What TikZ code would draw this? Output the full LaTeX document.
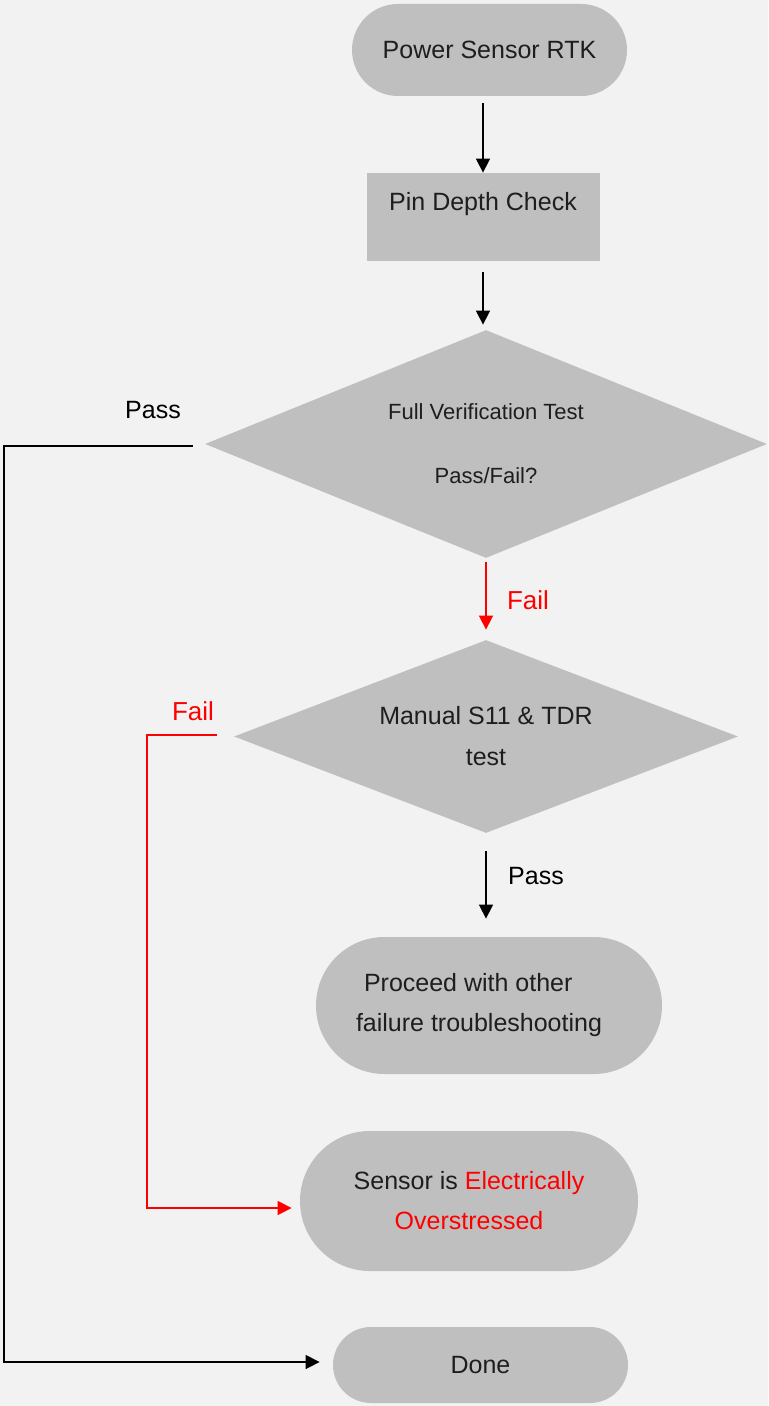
\documentclass[tikz,border=0pt]{standalone}
\usepackage{fontspec}
\setmainfont{Liberation Sans}
\usetikzlibrary{shapes.misc,shapes.geometric,arrows.meta}
\definecolor{bggray}{RGB}{242,242,242}
\definecolor{boxgray}{RGB}{191,191,191}
\definecolor{txtgray}{RGB}{30,30,30}
\tikzset{pill/.style={rounded rectangle, fill=boxgray, inner sep=0pt, text=txtgray, align=center, font=\fontsize{12.5}{20}\selectfont},
	boxstep/.style={rectangle, fill=boxgray, inner xsep=0pt, inner ysep=0pt, text=txtgray, font=\fontsize{12.5}{20}\selectfont},
	decision/.style={diamond, aspect=2.5, fill=boxgray, inner sep=0pt, text=txtgray, align=center},
	flow/.style={draw=black, line width=0.75pt, -{Triangle[length=7pt,width=7pt]}},
	failflow/.style={draw=red, line width=0.75pt, -{Triangle[length=7pt,width=7pt]}},
	lbl/.style={font=\fontsize{12.5}{15}\selectfont}}

\begin{document}
\begin{tikzpicture}[x=0.5pt,y=-0.5pt]
				\fill[bggray] (0,0) rectangle (768,1406);
				\useasboundingbox (0,0) rectangle (768,1406);
				\node[pill, minimum width=137.5pt, minimum height=46pt] (rtk) at (489.5,50) {Power Sensor RTK};
				\node[boxstep, minimum width=116.5pt, minimum height=44pt, text height=19pt, text depth=25pt] (pindepth) at (483,217) {Pin Depth Check};
				\node[decision, minimum width=281pt, minimum height=114pt, font=\fontsize{11}{32}\selectfont] (fullver) at (486,444) {Full Verification Test\\Pass/Fail?};
				\node[decision, minimum width=252pt, minimum height=96.5pt, font=\fontsize{12.5}{20.5}\selectfont] (manual) at (486,736.5) {Manual S11 \& TDR\\test};
				\node[pill, minimum width=173pt, minimum height=68.5pt, align=left] (proceed) at (489,1005.5) {\hspace*{4pt}Proceed with other\\failure troubleshooting\hspace*{10pt}};
				\node[pill, minimum width=169pt, minimum height=70pt] (eos) at (469,1201) {Sensor is \textcolor{red}{Electrically}\\\textcolor{red}{Overstressed}};
				\node[pill, minimum width=147.5pt, minimum height=38pt] (done) at (480.5,1365) {Done};
				\coordinate (passturn) at (4,446);
				\coordinate (failturn) at (147,735);
				\draw[flow, shorten <=3.5pt] (pindepth.north |- rtk.south) -- (pindepth.north);
				\draw[flow, shorten <=5.5pt, shorten >=2.5pt] (pindepth.south) -- (pindepth.south |- fullver.north);
				\draw[flow] ([xshift=-6pt,yshift=-1pt]fullver.west) -- (passturn) |- ([xshift=-6.5pt,yshift=1.5pt]done.west);
				\draw[failflow, shorten <=2pt, shorten >=5pt] (fullver.south) -- (manual.north);
				\draw[failflow] ([xshift=-8.5pt,yshift=0.75pt]manual.west) -- (failturn) |- ([xshift=-4pt,yshift=-3.5pt]eos.west);
				\draw[flow, shorten <=9pt, shorten >=9pt] (manual.south) -- (manual.south |- proceed.north);
				\node[lbl] (passleft) at (153,410) {Pass};
				\node[lbl, text=red, font=\fontsize{13}{15}\selectfont] (failmid) at (528,600) {Fail};
				\node[lbl, text=red, font=\fontsize{13}{15}\selectfont] (failleft) at (193,711) {Fail};
				\node[lbl] (passmid) at (536,876) {Pass};
			\end{tikzpicture}
\end{document}
